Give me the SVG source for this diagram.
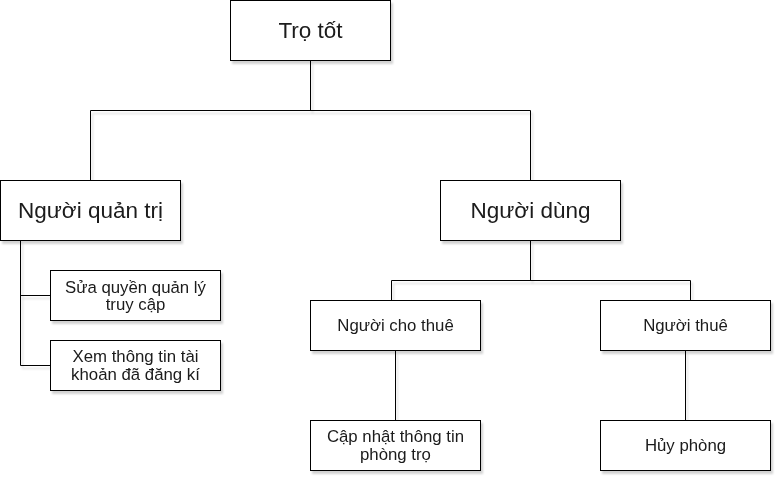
<svg xmlns="http://www.w3.org/2000/svg" width="782" height="482" viewBox="0 0 782 482">
<defs>
<filter id="sh" x="-10%" y="-10%" width="130%" height="140%">
<feGaussianBlur in="SourceAlpha" stdDeviation="1.2"/>
<feOffset dx="2" dy="3" result="b"/>
<feComponentTransfer><feFuncA type="linear" slope="0.18"/></feComponentTransfer>
<feMerge><feMergeNode/><feMergeNode in="SourceGraphic"/></feMerge>
</filter>
</defs>
<style>
.box{fill:#ffffff;stroke:#000000;stroke-width:1}
.ln{fill:none;stroke:#000000;stroke-width:1}
text{font-family:"Liberation Sans",Arial,Helvetica,sans-serif;fill:#1a1a1a;text-anchor:middle}
.big{font-size:22.5px}
.sm{font-size:16.8px}
</style>
<rect width="782" height="482" fill="#ffffff"/>
<g id="connectors" filter="url(#sh)">
<path class="ln" d="M310.5,60.5 V110.5 M90.5,180.5 V110.5 H530.5 V180.5"/>
<path class="ln" d="M20.5,240.5 V365.5 H50.5 M20.5,295.5 H50.5"/>
<path class="ln" d="M530.5,240.5 V280.5 M391.5,300.5 V280.5 H690.5 V300.5"/>
<path class="ln" d="M395.5,350.5 V420.5 M685.5,350.5 V420.5"/>
</g>
<g id="tro-tot" filter="url(#sh)">
<rect class="box" x="230.5" y="0.5" width="160" height="60"/>
<text class="big" x="310.5" y="38">Trọ tốt</text>
</g>
<g id="nguoi-quan-tri" filter="url(#sh)">
<rect class="box" x="0.5" y="180.5" width="180" height="60"/>
<text class="big" x="90.5" y="218">Người quản trị</text>
</g>
<g id="nguoi-dung" filter="url(#sh)">
<rect class="box" x="440.5" y="180.5" width="180" height="60"/>
<text class="big" x="530.5" y="218">Người dùng</text>
</g>
<g id="sua-quyen" filter="url(#sh)">
<rect class="box" x="50.5" y="270.5" width="170" height="50"/>
<text class="sm" x="135.5" y="292.5">Sửa quyền quản lý</text>
<text class="sm" x="135.5" y="310">truy cập</text>
</g>
<g id="xem-thong-tin" filter="url(#sh)">
<rect class="box" x="50.5" y="340.5" width="170" height="50"/>
<text class="sm" x="135.5" y="362">Xem thông tin tài</text>
<text class="sm" x="135.5" y="379.5">khoản đã đăng kí</text>
</g>
<g id="nguoi-cho-thue" filter="url(#sh)">
<rect class="box" x="310.5" y="300.5" width="170" height="50"/>
<text class="sm" x="395.5" y="331">Người cho thuê</text>
</g>
<g id="nguoi-thue" filter="url(#sh)">
<rect class="box" x="600.5" y="300.5" width="170" height="50"/>
<text class="sm" x="685.5" y="331">Người thuê</text>
</g>
<g id="cap-nhat" filter="url(#sh)">
<rect class="box" x="310.5" y="420.5" width="170" height="50"/>
<text class="sm" x="395.5" y="442">Cập nhật thông tin</text>
<text class="sm" x="395.5" y="459.5">phòng trọ</text>
</g>
<g id="huy-phong" filter="url(#sh)">
<rect class="box" x="600.5" y="420.5" width="170" height="50"/>
<text class="sm" x="685.5" y="451">Hủy phòng</text>
</g>
</svg>
